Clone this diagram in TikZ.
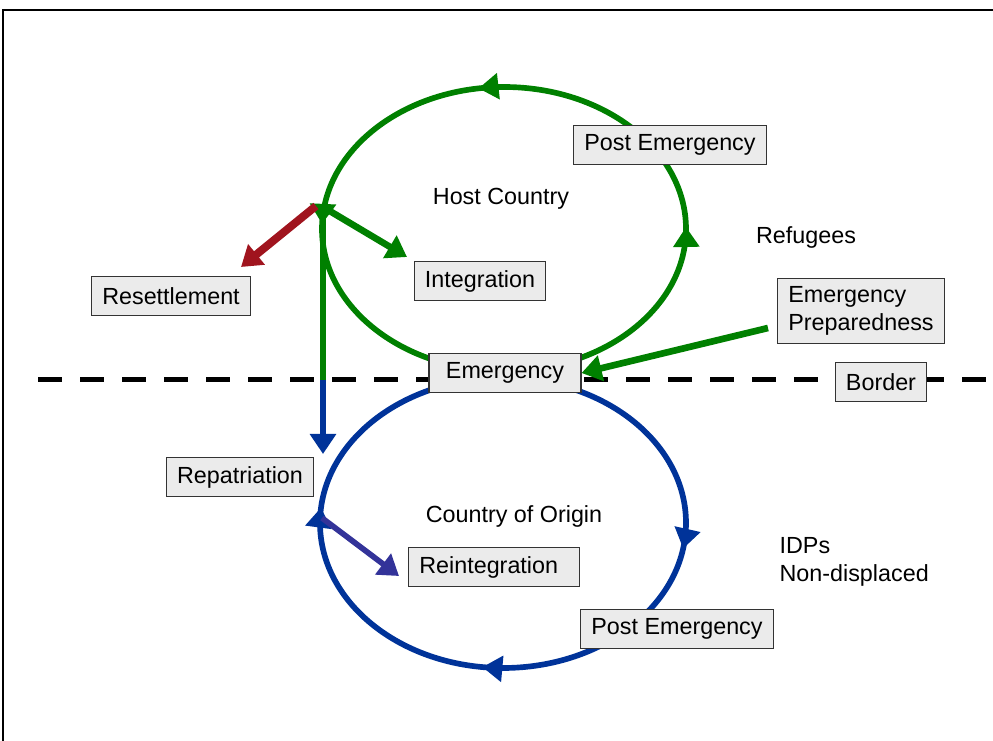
\documentclass[tikz,border=0pt]{standalone}
\usepackage{fontspec}
\setmainfont{Liberation Sans}
\usetikzlibrary{arrows.meta,decorations.markings}

\definecolor{hostgreen}{RGB}{0,128,0}
\definecolor{originblue}{RGB}{0,51,153}
\definecolor{resetred}{RGB}{160,20,30}
\definecolor{reintpurple}{RGB}{51,51,153}
\definecolor{boxgray}{RGB}{235,235,235}

\begin{document}
\begin{tikzpicture}[x=0.75pt,y=-0.75pt,
		font=\fontsize{17.5}{21}\selectfont,
		box/.style={draw=black!80,line width=0.8pt,fill=boxgray,inner xsep=8pt,minimum height=29.5pt},
		lbl/.style={inner sep=4pt},
		tip/.style={-{Triangle[width=19pt,length=15pt]}},
		cycletip/.style={postaction={decorate,decoration={markings,
			mark=at position #1 with {\arrow{Triangle[width=19pt,length=15pt]}}}}}
	]
	\useasboundingbox (0,0) rectangle (993,741);
	\draw[line width=1.5pt] (3,741) -- (3,10) -- (993,10);

	% the two cycles
	\draw[hostgreen,line width=4.25pt,cycletip=0.252,cycletip=0.525,cycletip=0.745]
		(504,371) arc[start angle=90,end angle=-270,x radius=182,y radius=142];
	\draw[originblue,line width=4.25pt,cycletip=0.275,cycletip=0.52,cycletip=0.765]
		(503,378) arc[start angle=-90,end angle=270,x radius=183,y radius=145];

	% border
	\draw[line width=3.75pt,dash pattern=on 18pt off 13.5pt] (38,380) -- (993,380);

	% plain labels
	\node[lbl] (host) at (501,199) {Host Country};
	\node[lbl] (refug) at (806,237) {Refugees};
	\node[lbl] (origin) at (514,516) {Country of Origin};
	\node[lbl,align=left,anchor=west] (idps) at (774,562) {IDPs\\Non-displaced};

	% boxes
	\node[box] (postup) at (670,145) {Post Emergency};
	\node[box] (integ) at (480,281) {Integration};
	\node[box] (resett) at (171,296) {Resettlement};
	\node[box,align=left,inner ysep=6pt] (prep) at (861,311) {Emergency\\Preparedness};
	\node[box,minimum width=114pt] (emerg) at (505,373) {Emergency};
	\node[box] (border) at (881,382) {Border};
	\node[box] (repat) at (240,477) {Repatriation};
	\node[box,text width=112pt,align=left] (reint) at (494,567) {Reintegration};
	\node[box] (postdown) at (677,629) {Post Emergency};

	% connectors
	\coordinate (fork) at (323,207);
	\coordinate (cross) at (323,380);
	\coordinate (repin) at (323,454);
	\coordinate (integin) at (407,257);
	\coordinate (resettout) at (316,206);
	\coordinate (resettin) at (241,267);
	\coordinate (reintout) at (322,518);
	\coordinate (reintin) at (399,576);
	\coordinate (prepout) at (768,328);

	\draw[hostgreen,line width=4.25pt] (fork) -- (cross);
	\draw[originblue,line width=4.25pt,tip] (cross) -- (repin);
	\draw[hostgreen,line width=5pt,tip] (fork) -- (integin);
	\draw[resetred,line width=6pt,tip] (resettout) -- (resettin);
	\draw[reintpurple,line width=4.25pt,tip] (reintout) -- (reintin);
	\draw[hostgreen,line width=5pt,tip] (prepout) -- (emerg.east);
\end{tikzpicture}
\end{document}
